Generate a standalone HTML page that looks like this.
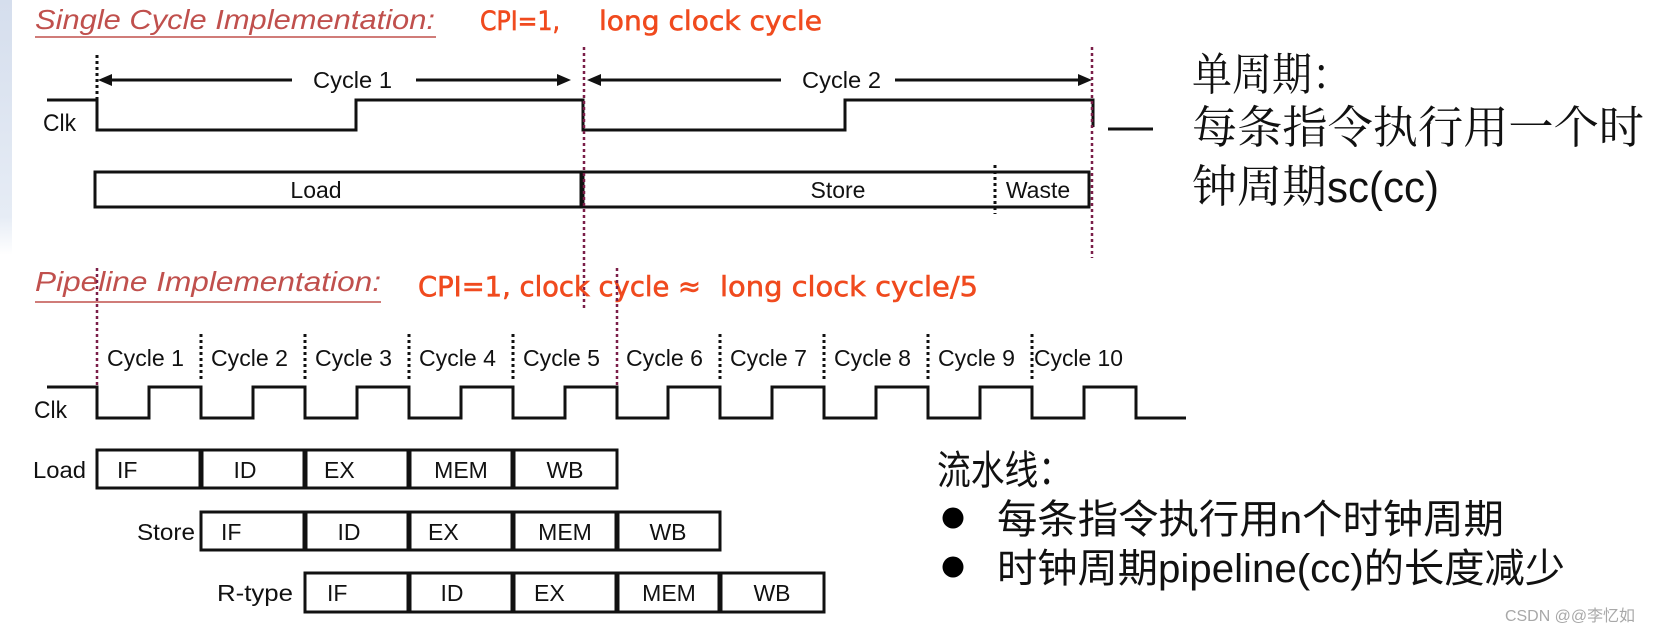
<!DOCTYPE html>
<html>
<head>
<meta charset="utf-8">
<style>
  html, body { margin: 0; padding: 0; background: #fff; }
  body { width: 1653px; height: 634px; overflow: hidden; }
  svg { display: block; }
  .lab { font-family: "Liberation Sans", "DejaVu Sans", sans-serif; fill: #111; }
  .cpi { font-family: "DejaVu Sans", "Liberation Sans", sans-serif; fill: #f04a1e; stroke: #f04a1e; stroke-width: 0.6; }
  .ttl { font-family: "Liberation Sans", sans-serif; font-style: italic; fill: #c0504d; }
</style>
</head>
<body>
<svg width="1653" height="634" viewBox="0 0 1653 634" xmlns="http://www.w3.org/2000/svg">
  <defs>
    <linearGradient id="strip" x1="0" y1="0" x2="0" y2="1">
      <stop offset="0" stop-color="#d5deed"/>
      <stop offset="0.85" stop-color="#e6ecf5"/>
      <stop offset="1" stop-color="#ffffff"/>
    </linearGradient>
  </defs>
  <rect x="0" y="0" width="1653" height="634" fill="#fff"/>
  <rect x="0" y="0" width="12" height="255" fill="url(#strip)"/>

  <!-- ===== Single cycle section ===== -->
  <text class="ttl" x="35" y="29" font-size="28" textLength="400" lengthAdjust="spacingAndGlyphs">Single Cycle Implementation:</text>
  <line x1="35" y1="37" x2="436" y2="37" stroke="#c0504d" stroke-width="1.5"/>
  <text class="cpi" x="480" y="30" font-size="27" textLength="80" lengthAdjust="spacingAndGlyphs">CPI=1,</text>
  <text class="cpi" x="599" y="30" font-size="27" textLength="223" lengthAdjust="spacingAndGlyphs">long clock cycle</text>

  <!-- black dotted at start -->
  <line x1="97" y1="55" x2="97" y2="100" stroke="#111" stroke-width="3" stroke-dasharray="3 3"/>

  <!-- Cycle 1 arrow -->
  <line x1="104" y1="80" x2="292" y2="80" stroke="#111" stroke-width="3"/>
  <polygon points="98,80 112,74 112,86" fill="#111"/>
  <text class="lab" x="313" y="88" font-size="23" textLength="79" lengthAdjust="spacingAndGlyphs">Cycle 1</text>
  <line x1="416" y1="80" x2="565" y2="80" stroke="#111" stroke-width="3"/>
  <polygon points="571,80 557,74 557,86" fill="#111"/>

  <!-- Cycle 2 arrow -->
  <line x1="593" y1="80" x2="781" y2="80" stroke="#111" stroke-width="3"/>
  <polygon points="587,80 601,74 601,86" fill="#111"/>
  <text class="lab" x="802" y="88" font-size="23" textLength="79" lengthAdjust="spacingAndGlyphs">Cycle 2</text>
  <line x1="895" y1="80" x2="1086" y2="80" stroke="#111" stroke-width="3"/>
  <polygon points="1092,80 1078,74 1078,86" fill="#111"/>

  <!-- Single cycle clock -->
  <polyline points="47,100 97,100 97,130 356,130 356,100 583,100 583,130 845,130 845,100 1093,100 1093,127"
            fill="none" stroke="#111" stroke-width="3" stroke-linejoin="miter"/>
  <text class="lab" x="43" y="131" font-size="24" textLength="33" lengthAdjust="spacingAndGlyphs">Clk</text>

  <!-- Load / Store boxes -->
  <rect x="95" y="172" width="486" height="35" fill="none" stroke="#111" stroke-width="3"/>
  <rect x="583" y="172" width="506" height="35" fill="none" stroke="#111" stroke-width="3"/>
  <line x1="582" y1="170.5" x2="582" y2="208.5" stroke="#111" stroke-width="5"/>
  <line x1="995" y1="165" x2="995" y2="214" stroke="#111" stroke-width="3" stroke-dasharray="3 3"/>
  <text class="lab" x="316" y="198" font-size="23" text-anchor="middle">Load</text>
  <text class="lab" x="838" y="198" font-size="23" text-anchor="middle">Store</text>
  <text class="lab" x="1038" y="198" font-size="23" text-anchor="middle">Waste</text>

  <!-- maroon dotted lines (single cycle) -->
  <line x1="584" y1="47" x2="584" y2="308" stroke="#7a1e48" stroke-width="2.5" stroke-dasharray="3 3"/>
  <line x1="1092" y1="47" x2="1092" y2="258" stroke="#7a1e48" stroke-width="2.5" stroke-dasharray="3 3"/>

  <!-- right dash + chinese -->
  <line x1="1108" y1="129" x2="1153" y2="129" stroke="#111" stroke-width="3"/>
  <text x="1192" y="90" font-size="45" fill="#111" font-family="'Liberation Serif','Noto Serif CJK SC',serif" textLength="160" lengthAdjust="spacingAndGlyphs">单周期：</text>
  <text x="1192" y="143" font-size="45" fill="#111" font-family="'Liberation Serif','Noto Serif CJK SC',serif" textLength="452" lengthAdjust="spacingAndGlyphs">每条指令执行用一个时</text>
  <text x="1192" y="202" font-size="45" fill="#111" font-family="'Liberation Serif','Noto Serif CJK SC',serif" textLength="135" lengthAdjust="spacingAndGlyphs">钟周期</text>
  <text x="1327" y="202" font-size="44" fill="#111" font-family="'Liberation Sans','Noto Sans CJK SC',sans-serif" textLength="112" lengthAdjust="spacingAndGlyphs">sc(cc)</text>

  <!-- ===== Pipeline section ===== -->
  <text class="ttl" x="35" y="291" font-size="28" textLength="346" lengthAdjust="spacingAndGlyphs">Pipeline Implementation:</text>
  <line x1="35" y1="302" x2="381" y2="302" stroke="#c0504d" stroke-width="1.5"/>
  <text class="cpi" x="418" y="296" font-size="28" textLength="283" lengthAdjust="spacingAndGlyphs">CPI=1, clock cycle ≈</text>
  <text class="cpi" x="720" y="296" font-size="28" textLength="258" lengthAdjust="spacingAndGlyphs">long clock cycle/5</text>

  <!-- maroon dotted lines (pipeline) -->
  <line x1="97" y1="268" x2="97" y2="386" stroke="#7a1e48" stroke-width="2.5" stroke-dasharray="3 3"/>
  <line x1="617" y1="268" x2="617" y2="386" stroke="#7a1e48" stroke-width="2.5" stroke-dasharray="3 3"/>

  <!-- black dotted separators -->
  <g stroke="#111" stroke-width="3" stroke-dasharray="3 3">
    <line x1="201" y1="334" x2="201" y2="381"/>
    <line x1="305" y1="334" x2="305" y2="381"/>
    <line x1="409" y1="334" x2="409" y2="381"/>
    <line x1="513" y1="334" x2="513" y2="381"/>
    <line x1="720" y1="334" x2="720" y2="381"/>
    <line x1="824" y1="334" x2="824" y2="381"/>
    <line x1="928" y1="334" x2="928" y2="381"/>
    <line x1="1032" y1="334" x2="1032" y2="381"/>
  </g>

  <!-- cycle labels -->
  <g class="lab" font-size="23">
    <text x="107" y="366" textLength="77" lengthAdjust="spacingAndGlyphs">Cycle 1</text>
    <text x="211" y="366" textLength="77" lengthAdjust="spacingAndGlyphs">Cycle 2</text>
    <text x="315" y="366" textLength="77" lengthAdjust="spacingAndGlyphs">Cycle 3</text>
    <text x="419" y="366" textLength="77" lengthAdjust="spacingAndGlyphs">Cycle 4</text>
    <text x="523" y="366" textLength="77" lengthAdjust="spacingAndGlyphs">Cycle 5</text>
    <text x="626" y="366" textLength="77" lengthAdjust="spacingAndGlyphs">Cycle 6</text>
    <text x="730" y="366" textLength="77" lengthAdjust="spacingAndGlyphs">Cycle 7</text>
    <text x="834" y="366" textLength="77" lengthAdjust="spacingAndGlyphs">Cycle 8</text>
    <text x="938" y="366" textLength="77" lengthAdjust="spacingAndGlyphs">Cycle 9</text>
    <text x="1034" y="366" textLength="89" lengthAdjust="spacingAndGlyphs">Cycle 10</text>
  </g>

  <!-- pipeline clock -->
  <polyline points="47,387 97,387 97,418 149,418 149,387 201,387 201,418 253,418 253,387 305,387 305,418 357,418 357,387 409,387 409,418 461,418 461,387 513,387 513,418 565,418 565,387 617,387 617,418 668,418 668,387 720,387 720,418 772,418 772,387 824,387 824,418 876,418 876,387 928,387 928,418 980,418 980,387 1032,387 1032,418 1084,418 1084,387 1136,387 1136,418 1186,418"
            fill="none" stroke="#111" stroke-width="3" stroke-linejoin="miter"/>
  <text class="lab" x="34" y="418" font-size="24" textLength="33" lengthAdjust="spacingAndGlyphs">Clk</text>

  <!-- Load row -->
  <rect x="97" y="450" width="520" height="38" fill="none" stroke="#111" stroke-width="3"/>
  <g stroke="#111" stroke-width="5">
    <line x1="201" y1="448.5" x2="201" y2="489.5"/>
    <line x1="305" y1="448.5" x2="305" y2="489.5"/>
    <line x1="409" y1="448.5" x2="409" y2="489.5"/>
    <line x1="513" y1="448.5" x2="513" y2="489.5"/>
  </g>
  <text class="lab" x="33" y="478" font-size="23" textLength="53" lengthAdjust="spacingAndGlyphs">Load</text>
  <g class="lab" font-size="23">
    <text x="117" y="478">IF</text>
    <text x="245" y="478" text-anchor="middle">ID</text>
    <text x="324" y="478">EX</text>
    <text x="461" y="478" text-anchor="middle">MEM</text>
    <text x="565" y="478" text-anchor="middle">WB</text>
  </g>

  <!-- Store row -->
  <rect x="201" y="512" width="519" height="38" fill="none" stroke="#111" stroke-width="3"/>
  <g stroke="#111" stroke-width="5">
    <line x1="305" y1="510.5" x2="305" y2="551.5"/>
    <line x1="409" y1="510.5" x2="409" y2="551.5"/>
    <line x1="513" y1="510.5" x2="513" y2="551.5"/>
    <line x1="617" y1="510.5" x2="617" y2="551.5"/>
  </g>
  <text class="lab" x="137" y="540" font-size="23" textLength="58" lengthAdjust="spacingAndGlyphs">Store</text>
  <g class="lab" font-size="23">
    <text x="221" y="540">IF</text>
    <text x="349" y="540" text-anchor="middle">ID</text>
    <text x="428" y="540">EX</text>
    <text x="565" y="540" text-anchor="middle">MEM</text>
    <text x="668" y="540" text-anchor="middle">WB</text>
  </g>

  <!-- R-type row -->
  <rect x="305" y="573" width="519" height="39" fill="none" stroke="#111" stroke-width="3"/>
  <g stroke="#111" stroke-width="5">
    <line x1="409" y1="571.5" x2="409" y2="613.5"/>
    <line x1="513" y1="571.5" x2="513" y2="613.5"/>
    <line x1="617" y1="571.5" x2="617" y2="613.5"/>
    <line x1="720" y1="571.5" x2="720" y2="613.5"/>
  </g>
  <text class="lab" x="217" y="601" font-size="23" textLength="76" lengthAdjust="spacingAndGlyphs">R-type</text>
  <g class="lab" font-size="23">
    <text x="327" y="601">IF</text>
    <text x="452" y="601" text-anchor="middle">ID</text>
    <text x="534" y="601">EX</text>
    <text x="669" y="601" text-anchor="middle">MEM</text>
    <text x="772" y="601" text-anchor="middle">WB</text>
  </g>

  <!-- bottom-right chinese -->
  <text x="937" y="484" font-size="40" fill="#111" font-family="'Liberation Sans','Noto Sans CJK SC',sans-serif" textLength="135" lengthAdjust="spacingAndGlyphs">流水线：</text>
  <circle cx="953" cy="518" r="10.5" fill="#000"/>
  <circle cx="953" cy="567" r="10.5" fill="#000"/>
  <text x="997" y="533" font-size="40" fill="#111" font-family="'Liberation Sans','Noto Sans CJK SC',sans-serif" textLength="507" lengthAdjust="spacingAndGlyphs">每条指令执行用n个时钟周期</text>
  <text x="997" y="582" font-size="40" fill="#111" font-family="'Liberation Sans','Noto Sans CJK SC',sans-serif" textLength="568" lengthAdjust="spacingAndGlyphs">时钟周期pipeline(cc)的长度减少</text>

  <!-- watermark -->
  <text x="1505" y="621" font-size="16" fill="#a8a8a8" font-family="'Liberation Sans','Noto Sans CJK SC',sans-serif" textLength="130" lengthAdjust="spacingAndGlyphs">CSDN @@李忆如</text>
</svg>
</body>
</html>
